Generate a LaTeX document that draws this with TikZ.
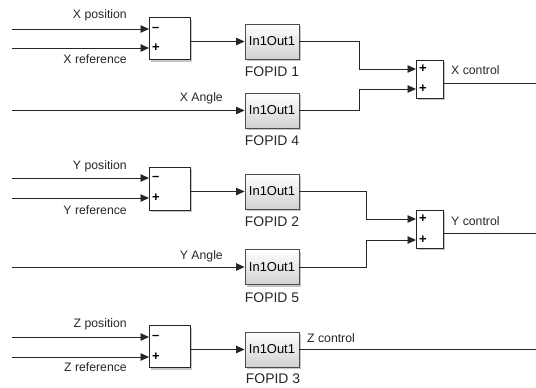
\documentclass[tikz,border=0pt]{standalone}
\usepackage{fontspec}
\setmainfont{Liberation Sans}
\usetikzlibrary{arrows.meta,shadows}
\begin{document}
\begin{tikzpicture}[x=1bp,y=-1bp,
  wire/.style={line width=0.9bp, draw=black!85},
  arr/.style={wire, -{Triangle[length=8.5bp,width=7.5bp]}},
  sumblk/.style={draw=black!85, fill=white, line width=0.9bp, inner sep=0pt,
    drop shadow={shadow xshift=2bp, shadow yshift=-2bp, opacity=0.45}},
  pidblk/.style={draw=black!70, line width=0.9bp, inner sep=0pt,
    minimum width=54bp, minimum height=35bp, top color=white, bottom color=black!18,
    font=\fontsize{13}{13}\selectfont,
    drop shadow={shadow xshift=2bp, shadow yshift=-2bp, opacity=0.45}},
  lbl/.style={font=\fontsize{12.3}{13}\selectfont, inner sep=0pt, text=black!85},
  pidlbl/.style={font=\fontsize{14}{14}\selectfont, inner sep=0pt, text=black!85},
  sign/.style={font=\bfseries\fontsize{13}{13}\selectfont, inner sep=0pt, anchor=west}
]
\useasboundingbox (0,0) rectangle (536,387);

% ---------- X group ----------
\node[sumblk, minimum width=41bp, minimum height=42bp] (sx) at (169.5,38.5) {};
\node[pidblk] (f1) at (272,41.5) {In1Out1};
\node[pidblk] (f4) at (272,110.5) {In1Out1};
\node[sumblk, minimum width=27bp, minimum height=38bp] (sx2) at (429.5,79) {};
\node[pidlbl] (f1l) at (272,72) {FOPID 1};
\node[pidlbl] (f4l) at (272,141) {FOPID 4};

\coordinate (xpin) at (12,29);
\coordinate (xrin) at (12,48);
\coordinate (xain) at (12,110.5);
\coordinate (sxa) at (149,29);
\coordinate (sxb) at (149,48);
\coordinate (jx) at (359,0);
\coordinate (x2a) at (416,69);
\coordinate (x2b) at (416,89);
\coordinate (x2o) at (443,83);
\coordinate (xout) at (536,83);

\draw[arr] (xpin) -- (sxa);
\draw[arr] (xrin) -- (sxb);
\draw[arr] (xain) -- (f4.west);
\draw[arr] (f1.west -| sx.east) -- (f1.west);
\draw[arr] (f1.east) -- (f1.east -| jx) |- (x2a);
\draw[arr] (f4.east) -- (f4.east -| jx) |- (x2b);
\draw[wire] (x2o) -- (xout);

\node[sign] (sxm) at (sxa) [xshift=3bp] {--};
\node[sign] (sxp) at (sxb) [xshift=3bp] {+};
\node[sign] (sx2p1) at (x2a) [xshift=3bp] {+};
\node[sign] (sx2p2) at (x2b) [xshift=3bp] {+};

\node[lbl, anchor=east] (xpl) at (127,15) {X position};
\node[lbl, anchor=east] (xrl) at (127,59) {X reference};
\node[lbl, anchor=east] (xal) at (223,98) {X Angle};
\node[lbl, anchor=west] (xcl) at (451,70) {X control};

% ---------- Y group ----------
\node[sumblk, minimum width=41bp, minimum height=43bp] (sy) at (169.5,188.5) {};
\node[pidblk] (f2) at (272,191.5) {In1Out1};
\node[pidblk] (f5) at (272,267) {In1Out1};
\node[sumblk, minimum width=27bp, minimum height=38bp] (sy2) at (429.5,229) {};
\node[pidlbl] (f2l) at (272,222) {FOPID 2};
\node[pidlbl] (f5l) at (272,297.5) {FOPID 5};

\coordinate (ypin) at (12,178);
\coordinate (yrin) at (12,198);
\coordinate (yain) at (12,267);
\coordinate (sya) at (149,178);
\coordinate (syb) at (149,198);
\coordinate (jy) at (366,0);
\coordinate (y2a) at (416,219);
\coordinate (y2b) at (416,240);
\coordinate (y2o) at (443,233);
\coordinate (yout) at (536,233);

\draw[arr] (ypin) -- (sya);
\draw[arr] (yrin) -- (syb);
\draw[arr] (yain) -- (f5.west);
\draw[arr] (f2.west -| sy.east) -- (f2.west);
\draw[arr] (f2.east) -- (f2.east -| jy) |- (y2a);
\draw[arr] (f5.east) -- (f5.east -| jy) |- (y2b);
\draw[wire] (y2o) -- (yout);

\node[sign] (sym) at (sya) [xshift=3bp] {--};
\node[sign] (syp) at (syb) [xshift=3bp] {+};
\node[sign] (sy2p1) at (y2a) [xshift=3bp] {+};
\node[sign] (sy2p2) at (y2b) [xshift=3bp] {+};

\node[lbl, anchor=east] (ypl) at (127,166) {Y position};
\node[lbl, anchor=east] (yrl) at (127,210) {Y reference};
\node[lbl, anchor=east] (yal) at (223,256) {Y Angle};
\node[lbl, anchor=west] (ycl) at (451,221) {Y control};

% ---------- Z group ----------
\node[sumblk, minimum width=41bp, minimum height=42bp] (sz) at (169.5,346.5) {};
\node[pidblk] (f3) at (272,349.5) {In1Out1};
\node[pidlbl] (f3l) at (273,379) {FOPID 3};

\coordinate (zpin) at (12,337);
\coordinate (zrin) at (12,357);
\coordinate (sza) at (149,337);
\coordinate (szb) at (149,357);
\coordinate (zout) at (536,349.5);

\draw[arr] (zpin) -- (sza);
\draw[arr] (zrin) -- (szb);
\draw[arr] (f3.west -| sz.east) -- (f3.west);
\draw[wire] (f3.east) -- (zout);

\node[sign] (szm) at (sza) [xshift=3bp] {--};
\node[sign] (szp) at (szb) [xshift=3bp] {+};

\node[lbl, anchor=east] (zpl) at (127,324) {Z position};
\node[lbl, anchor=east] (zrl) at (127,367) {Z reference};
\node[lbl, anchor=west] (zcl) at (307,338) {Z control};
\end{tikzpicture}
\end{document}
